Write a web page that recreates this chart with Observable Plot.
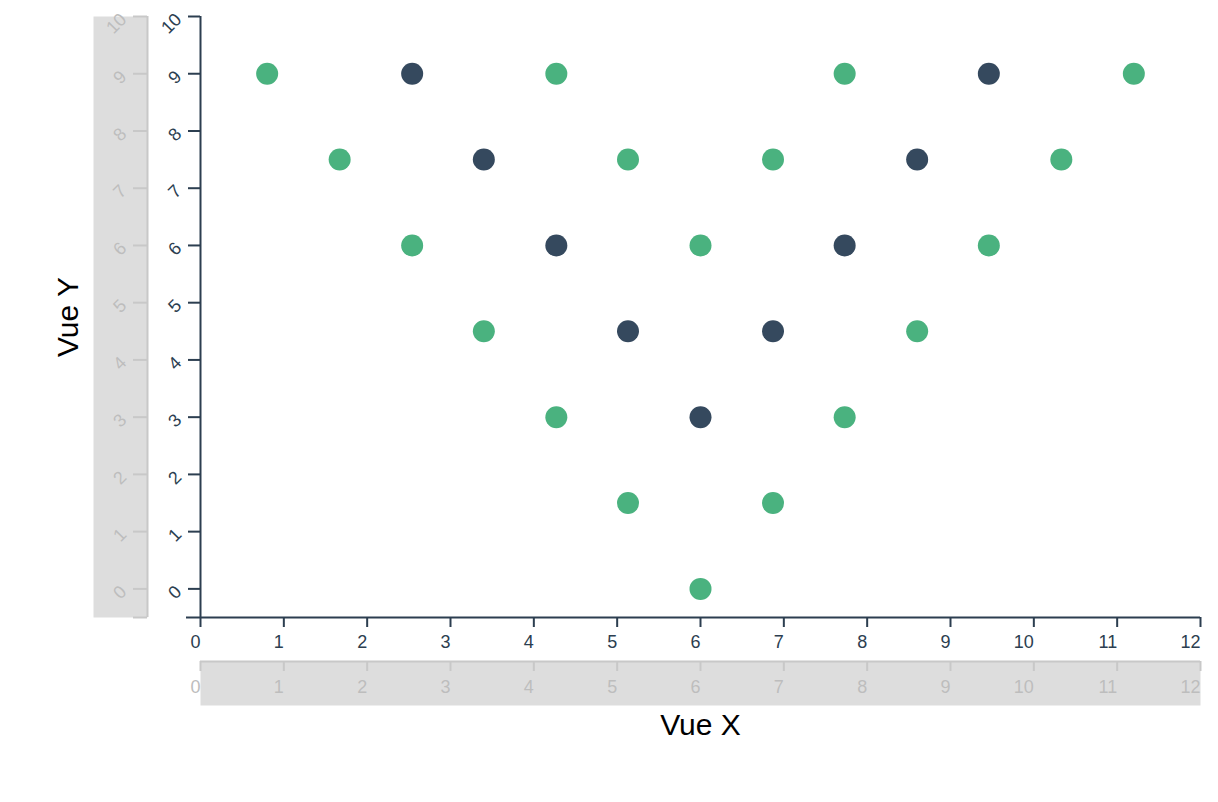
<!DOCTYPE html>
<html>
<head>
<meta charset="utf-8">
<script src="https://cdn.jsdelivr.net/npm/d3@7"></script>
<script src="https://cdn.jsdelivr.net/npm/@observablehq/plot@0.6"></script>
<style>
  html, body { margin: 0; padding: 0; background: #fff; }
  #chart svg { display: block; }
</style>
</head>
<body>
<div id="chart"></div>
<script>
const xValues = [0.80, 2.54, 4.27, 7.73, 9.46, 11.20,
                 1.67, 3.40, 5.13, 6.87, 8.60, 10.33,
                 2.54, 4.27, 6.00, 7.73, 9.46,
                 3.40, 5.13, 6.87, 8.60,
                 4.27, 6.00, 7.73,
                 5.13, 6.87,
                 6.00];
const yValues = [9, 9, 9, 9, 9, 9,
                 7.5, 7.5, 7.5, 7.5, 7.5, 7.5,
                 6, 6, 6, 6, 6,
                 4.5, 4.5, 4.5, 4.5,
                 3, 3, 3,
                 1.5, 1.5,
                 0];
const groups = ["g", "d", "g", "g", "d", "g",
                "g", "d", "g", "g", "d", "g",
                "g", "d", "g", "d", "g",
                "g", "d", "d", "g",
                "g", "d", "g",
                "g", "g",
                "g"];
const xTicks = [0, 1, 2, 3, 4, 5, 6, 7, 8, 9, 10, 11, 12];
const yTicks = [0, 1, 2, 3, 4, 5, 6, 7, 8, 9, 10];

const GREEN = "#4ab27f", DARK = "#35495e", AXIS = "#2c3e50";
const GRAY_TICK = "#c8c8c8", GRAY_TEXT = "#bdbdbd", BAND = "#dddddd";
const TICK_FONT = 18;

const data = xValues.map((x, i) => ({x, y: yValues[i], g: groups[i]}));

const chart = Plot.plot({
  width: 1218,
  height: 802,
  marginTop: 16,
  marginBottom: 185,
  marginLeft: 200,
  marginRight: 18,
  style: {fontFamily: "'Liberation Sans', Arial, sans-serif", fontSize: "18px", background: "#fff"},
  x: {domain: [0, 12]},
  y: {domain: [-0.5, 10]},
  marks: [
    // gray bands
    Plot.frame({fill: BAND, stroke: null, insetTop: 645, insetBottom: -88}),
    Plot.frame({fill: BAND, stroke: null, insetLeft: -107, insetRight: 1053}),
    // secondary gray axes
    Plot.ruleY([-0.5], {stroke: GRAY_TICK, strokeWidth: 2, dy: 44}),
    Plot.axisX({ticks: xTicks, tickSize: 10, tickPadding: 9, dy: 44, stroke: GRAY_TICK, strokeWidth: 2, fill: GRAY_TEXT, fontSize: TICK_FONT, textAnchor: "end", label: null}),
    Plot.ruleX([0], {stroke: GRAY_TICK, strokeWidth: 2, dx: -53}),
    Plot.ruleY([-0.5], {stroke: GRAY_TICK, strokeWidth: 2, insetLeft: -67, insetRight: 1053}),
    Plot.axisY({ticks: yTicks, tickSize: 14, tickPadding: 10, dx: -53, tickRotate: -45, stroke: GRAY_TICK, strokeWidth: 2, fill: GRAY_TEXT, fontSize: TICK_FONT, label: null}),
    // main axes
    Plot.ruleX([0], {stroke: AXIS, strokeWidth: 2}),
    Plot.ruleY([-0.5], {stroke: AXIS, strokeWidth: 2, insetLeft: -14}),
    Plot.axisX({ticks: xTicks, tickSize: 10, tickPadding: 8, stroke: AXIS, strokeWidth: 2, fill: AXIS, fontSize: TICK_FONT, textAnchor: "end", label: null}),
    Plot.axisY({ticks: yTicks, tickSize: 12, tickPadding: 10, tickRotate: -45, stroke: AXIS, strokeWidth: 2, fill: AXIS, fontSize: TICK_FONT, label: null}),
    // axis titles
    Plot.text(["Vue X"], {frameAnchor: "bottom", dy: 108, lineAnchor: "middle", textAnchor: "middle", fontSize: 30, fill: "#000"}),
    Plot.text(["Vue Y"], {frameAnchor: "left", dx: -132, rotate: -90, lineAnchor: "middle", textAnchor: "middle", fontSize: 30, fill: "#000"}),
    // dots
    Plot.dot(data, {x: "x", y: "y", r: 11, fill: d => d.g === "g" ? GREEN : DARK, stroke: null})
  ]
});
document.getElementById("chart").appendChild(chart);
</script>
</body>
</html>
